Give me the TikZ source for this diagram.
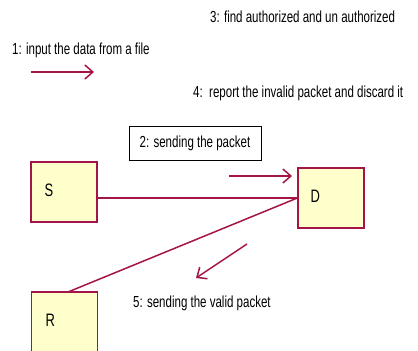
\documentclass[tikz,border=0pt]{standalone}
\usepackage{fontspec}
\setmainfont{Liberation Sans}[FakeStretch=0.72]
\usetikzlibrary{arrows.meta}

\definecolor{umlred}{RGB}{165,20,70}
\definecolor{umlfill}{RGB}{255,255,204}

\tikzset{
  obj/.style={draw=umlred, fill=umlfill, line width=1.3pt, minimum width=66pt,
    minimum height=60pt, inner sep=0pt},
  objname/.style={font=\fontsize{18}{18}\selectfont, anchor=west},
  link/.style={draw=umlred, line width=1.5pt},
  msg/.style={draw=umlred, line width=1.5pt, -{Straight Barb[length=8pt,width=14pt,line width=1.5pt]}},
  msgtext/.style={font=\fontsize{16}{16}\selectfont, inner sep=0pt},
}

\begin{document}
\begin{tikzpicture}[x=1pt, y=-1pt]
\useasboundingbox (0,0) rectangle (418,351);

% objects
\node[obj] (S) at (64,192) {};
\node[obj] (D) at (331,198) {};
\node[obj] (R) at (64.5,322) {};
\node[objname] at (41,190) {S};
\node[objname] at (307,196) {D};
\node[objname] at (42,320) {R};

% links
\draw[link] (S.east |- D.west) -- (D.west);
\coordinate (rtop) at (68,292);
\draw[link] (D.west) -- (rtop);

% messages
\node[msgtext, anchor=west] (m1) at (12,50) {1: input the data from a file};
\coordinate (a1s) at (31,72);
\coordinate (a1e) at (94,72);
\draw[msg] (a1s) -- (a1e);

\node[msgtext, draw=black, line width=0.8pt, minimum width=132pt, minimum height=34pt] (m2) at (195,143.5) {2: sending the packet};
\coordinate (a2s) at (229,176);
\coordinate (a2e) at (292,176);
\draw[msg] (a2s) -- (a2e);

\node[msgtext, anchor=west] (m3) at (210,17) {3: find authorized and un authorized};
\node[msgtext, anchor=west] (m4) at (193,93) {4:\ \ report the invalid packet and discard it};

\coordinate (a5s) at (247,244);
\coordinate (a5e) at (196,278);
\draw[msg] (a5s) -- (a5e);
\node[msgtext, anchor=west] (m5) at (133,303) {5: sending the valid packet};

\end{tikzpicture}
\end{document}
